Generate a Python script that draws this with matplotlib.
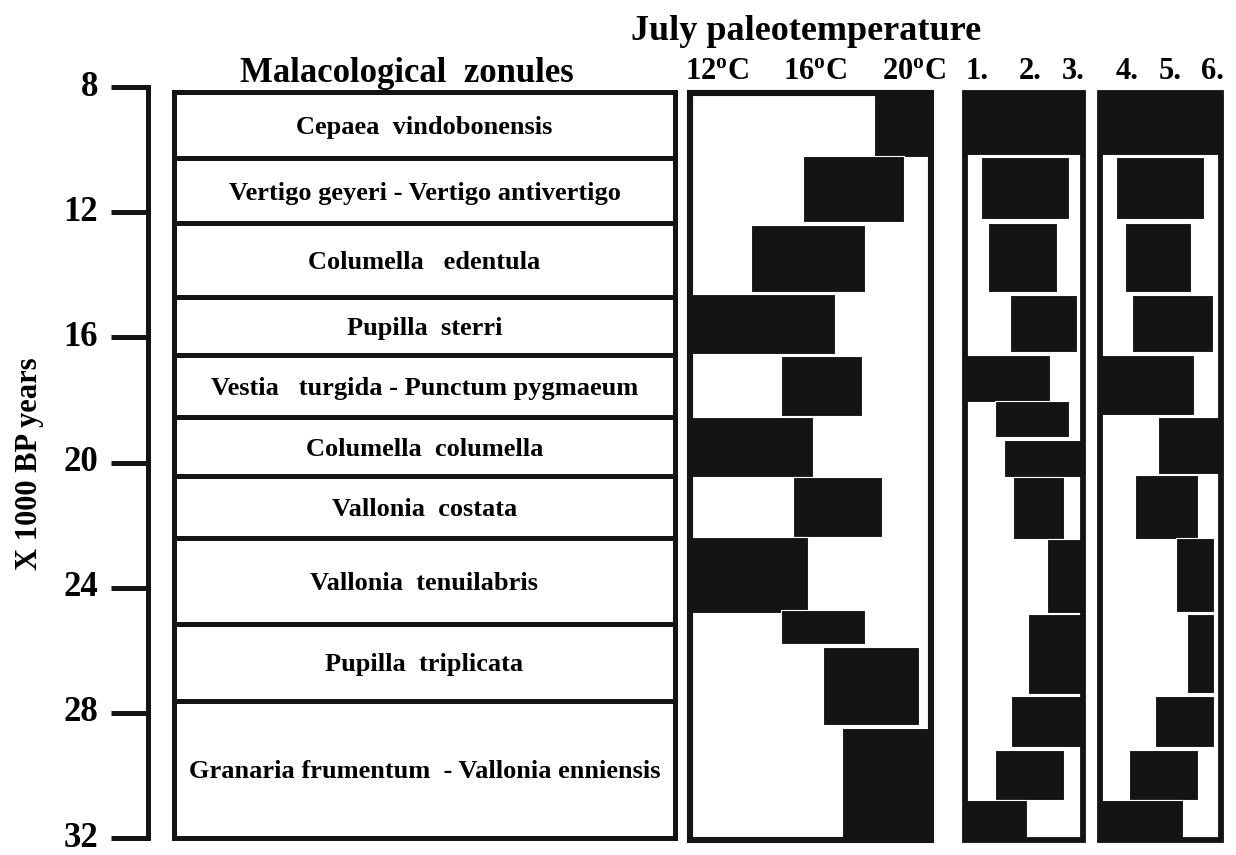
import matplotlib
matplotlib.use("Agg")
import matplotlib.pyplot as plt
from matplotlib.patches import Rectangle

plt.rcParams["font.family"] = ["Liberation Serif", "DejaVu Serif"]
plt.rcParams["font.weight"] = "bold"
plt.rcParams["mathtext.fontset"] = "custom"
plt.rcParams["mathtext.rm"] = "Liberation Serif:bold"
plt.rcParams["mathtext.it"] = "Liberation Serif:bold"
plt.rcParams["mathtext.bf"] = "Liberation Serif:bold"

# ---- data (ages in 1000 BP years) ----
age_ticks = [8, 12, 16, 20, 24, 28, 32]

zonules = [
    "Cepaea  vindobonensis",
    "Vertigo geyeri - Vertigo antivertigo",
    "Columella   edentula",
    "Pupilla  sterri",
    "Vestia   turgida - Punctum pygmaeum",
    "Columella  columella",
    "Vallonia  costata",
    "Vallonia  tenuilabris",
    "Pupilla  triplicata",
    "Granaria frumentum  - Vallonia enniensis",
]
zone_bounds = [8.16, 10.27, 12.35, 14.71, 16.57, 18.55, 20.43, 22.41, 25.16, 27.62, 32.0]

# July paleotemperature bars (deg C range per interval)
temp_top = [8.2, 10.2, 12.4, 14.6, 16.6, 18.55, 20.46, 22.37, 24.7, 25.9, 28.5]
temp_bottom = [10.24, 12.3, 14.55, 16.53, 18.5, 20.46, 22.38, 24.8, 25.8, 28.4, 32.05]
temp_low = [18.4, 15.5, 13.4, 10.8, 14.6, 10.8, 15.1, 10.8, 14.6, 16.3, 17.1]
temp_high = [20.8, 19.6, 18.0, 16.8, 17.9, 15.9, 18.7, 15.7, 18.0, 20.2, 20.8]
temp_ticks = [12, 16, 20]
temp_labels = [r"12$^{\rm o}$C", r"16$^{\rm o}$C", r"20$^{\rm o}$C"]

# groups 1.-3. (fraction of column width)
g1_top = [8.2, 10.24, 12.35, 14.65, 16.57, 18.04, 19.28, 20.46, 22.45, 24.84, 27.46, 29.19, 30.79]
g1_bottom = [10.17, 12.22, 14.55, 16.47, 18.07, 19.19, 20.46, 22.45, 24.81, 27.4, 29.09, 30.79, 32.05]
g1_left = [0.0, 0.14, 0.20, 0.38, 0.0, 0.26, 0.33, 0.41, 0.70, 0.54, 0.39, 0.26, 0.0]
g1_right = [1.0, 0.88, 0.78, 0.95, 0.72, 0.88, 1.0, 0.84, 1.0, 1.0, 1.0, 0.84, 0.53]
g1_labels = ["1.", "2.", "3."]

# groups 4.-6.
g2_top = [8.2, 10.24, 12.35, 14.65, 16.57, 18.55, 20.40, 22.40, 24.84, 27.46, 29.19, 30.79]
g2_bottom = [10.17, 12.22, 14.55, 16.47, 18.49, 20.37, 22.45, 24.78, 27.37, 29.09, 30.79, 32.05]
g2_left = [0.0, 0.14, 0.21, 0.27, 0.0, 0.48, 0.29, 0.63, 0.72, 0.46, 0.24, 0.0]
g2_right = [1.0, 0.86, 0.76, 0.94, 0.78, 1.0, 0.81, 0.95, 0.95, 0.95, 0.81, 0.69]
g2_labels = ["4.", "5.", "6."]

W, H = 1236, 855
INK = "#141414"
FRAME_TOP, FRAME_BOTTOM = 8.2, 32.05

fig = plt.figure(figsize=(W / 100, H / 100), dpi=100)
fig.patch.set_facecolor("white")


def panel(x0, x1):
    # every panel shares the same vertical age scale (8 at y=87px, 32 at y=838px)
    ax = fig.add_axes([x0 / W, 1 - 838 / H, (x1 - x0) / W, 751 / H])
    ax.set_ylim(32, 8)
    for s in ax.spines.values():
        s.set_visible(False)
    ax.set_yticks([])
    return ax


def bars(ax, top, bottom, left, right):
    ax.barh(top, [r - l for l, r in zip(left, right)],
            height=[b - t for t, b in zip(top, bottom)], left=left,
            align="edge", color=INK, edgecolor="white", linewidth=0.8, zorder=2)


def frame(ax, lw=4.2):
    x0, x1 = ax.get_xlim()
    ax.add_patch(Rectangle((x0, FRAME_TOP), x1 - x0, FRAME_BOTTOM - FRAME_TOP,
                           fill=False, edgecolor=INK, linewidth=lw,
                           joinstyle="miter", zorder=5, clip_on=False))


def top_labels(ax, ticks, labels, size):
    ax.xaxis.tick_top()
    ax.set_xticks(ticks, labels)
    ax.tick_params(axis="x", length=0, pad=1, labelsize=size)


# age axis
ax_age = panel(148, 158)
ax_age.set_xticks([])
ax_age.spines["left"].set_visible(True)
ax_age.spines["left"].set_linewidth(3.6)
ax_age.spines["left"].set_color(INK)
ax_age.spines["left"].set_capstyle("projecting")
ax_age.set_yticks(age_ticks)
ax_age.tick_params(axis="y", direction="out", length=27, width=3.6,
                   color=INK, pad=9, labelsize=25)
for lab in ax_age.get_yticklabels():
    lab.set_verticalalignment("center")

# zonules
ax_z = panel(174, 675)
ax_z.set_xlim(0, 1)
ax_z.set_xticks([])
for name, t, b in zip(zonules, zone_bounds[:-1], zone_bounds[1:]):
    ax_z.add_patch(Rectangle((0, t), 1, b - t, fill=False, edgecolor=INK,
                             linewidth=3.6, joinstyle="miter", clip_on=False))
    ax_z.text(0.5, (t + b) / 2, name, ha="center", va="center_baseline",
              fontsize=19)

# temperature
ax_t = panel(690, 931)
ax_t.set_xlim(10.9, 20.7)
bars(ax_t, temp_top, temp_bottom, temp_low, temp_high)
frame(ax_t, 4.4)
top_labels(ax_t, temp_ticks, temp_labels, 22)

# groups 1-3
ax_g1 = panel(964.5, 1083)
ax_g1.set_xlim(0, 1)
bars(ax_g1, g1_top, g1_bottom, g1_left, g1_right)
frame(ax_g1)
top_labels(ax_g1, [0.106, 0.553, 0.916], g1_labels, 22)

# groups 4-6
ax_g2 = panel(1099.5, 1220.5)
ax_g2.set_xlim(0, 1)
bars(ax_g2, g2_top, g2_bottom, g2_left, g2_right)
frame(ax_g2)
top_labels(ax_g2, [0.227, 0.583, 0.938], g2_labels, 22)

fig.text(407 / W, 1 - 82 / H, "Malacological  zonules", ha="center",
         va="baseline", fontsize=25)
fig.text(806 / W, 1 - 40 / H, "July paleotemperature", ha="center",
         va="baseline", fontsize=26)
fig.text(30 / W, 1 - 464 / H, "X 1000 BP years", rotation=90, ha="center",
         va="center", fontsize=22)

fig.savefig("out.png", dpi=100, facecolor="white")
